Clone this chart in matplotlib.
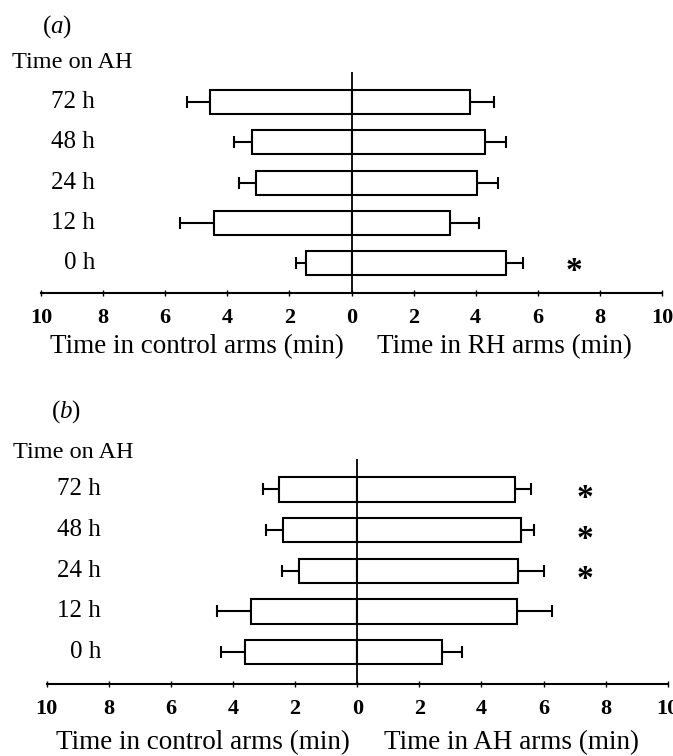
import numpy as np
import matplotlib
matplotlib.use("Agg")
import matplotlib.pyplot as plt

plt.rcParams['font.family'] = ['Liberation Serif', 'DejaVu Serif']
plt.rcParams['mathtext.fontset'] = 'custom'
plt.rcParams['mathtext.rm'] = 'Liberation Serif'
plt.rcParams['mathtext.it'] = 'Liberation Serif:italic'

# 0 h, 12 h, 24 h, 48 h, 72 h (bottom to top)
hours = ['0 h', '12 h', '24 h', '48 h', '72 h']

# panel (a): control arms vs RH arms, mean and mean+SE end (min)
ctrl_a = [1.48, 4.44, 3.08, 3.19, 4.55]
ctrl_a_top = [1.80, 5.51, 3.63, 3.77, 5.30]
rh_a = [4.99, 3.16, 4.05, 4.30, 3.81]
rh_a_top = [5.52, 4.12, 4.72, 4.97, 4.58]
sig_a = [True, False, False, False, False]

# panel (b): control arms vs AH arms
ctrl_b = [3.60, 3.42, 1.87, 2.40, 2.53]
ctrl_b_top = [4.40, 4.53, 2.42, 2.95, 3.02]
ah_b = [2.74, 5.15, 5.19, 5.26, 5.08]
ah_b_top = [3.39, 6.27, 6.02, 5.71, 5.61]
sig_b = [False, False, True, True, True]

tick_vals = [-10, -8, -6, -4, -2, 0, 2, 4, 6, 8, 10]


def draw_panel(ax, left, left_top, right, right_top, sig, star_x, ylo):
    y = np.arange(len(hours))
    left = np.array(left)
    right = np.array(right)
    ax.barh(y, -left, height=0.6, color='white', edgecolor='black', linewidth=1.5, zorder=2)
    ax.barh(y, right, height=0.6, color='white', edgecolor='black', linewidth=1.5, zorder=2)
    ax.errorbar(-left, y, xerr=[np.array(left_top) - left, np.zeros(len(y))],
                fmt='none', ecolor='black', elinewidth=1.5, capsize=4, capthick=1.5, zorder=1)
    ax.errorbar(right, y, xerr=[np.zeros(len(y)), np.array(right_top) - right],
                fmt='none', ecolor='black', elinewidth=1.5, capsize=4, capthick=1.5, zorder=1)
    ax.axvline(0, color='black', linewidth=1.3, zorder=3)

    for i, s in enumerate(sig):
        if s:
            ax.text(star_x, y[i] - 0.22, '*', ha='center', va='center',
                    fontsize=24, fontweight='bold')

    for i, h in enumerate(hours):
        ax.text(-8.25, y[i], h, ha='right', va='center', fontsize=18, clip_on=False)

    ax.set_xlim(-10, 10)
    ax.set_ylim(ylo, 4.75)
    ax.set_xticks(tick_vals)
    ax.set_xticklabels([str(abs(v)) for v in tick_vals], fontsize=16, fontweight='bold')
    ax.tick_params(axis='x', direction='inout', length=4, width=1, pad=9)
    ax.set_yticks([])
    for side in ['left', 'right', 'top']:
        ax.spines[side].set_visible(False)
    ax.spines['bottom'].set_linewidth(1.5)


fig = plt.figure(figsize=(6.73, 7.56), dpi=100)

ax_a = fig.add_axes([41 / 673, 1 - 293 / 756, 621 / 673, 221 / 756])
draw_panel(ax_a, ctrl_a, ctrl_a_top, rh_a, rh_a_top, sig_a, 7.18, -0.745)

ax_b = fig.add_axes([46.7 / 673, 1 - 684 / 756, 621 / 673, 225 / 756])
draw_panel(ax_b, ctrl_b, ctrl_b_top, ah_b, ah_b_top, sig_b, 7.35, -0.785)

# panel letters and headers
fig.text(57 / 673, 1 - 27 / 756, r'($\mathit{a}$)', ha='center', va='center', fontsize=18)
fig.text(12 / 673, 1 - 62 / 756, 'Time on AH', ha='left', va='center', fontsize=17.5)
fig.text(66 / 673, 1 - 412 / 756, r'($\mathit{b}$)', ha='center', va='center', fontsize=18)
fig.text(13 / 673, 1 - 452 / 756, 'Time on AH', ha='left', va='center', fontsize=17.5)

# axis titles under each half
fig.text(197 / 673, 1 - 347 / 756, 'Time in control arms (min)', ha='center', va='center', fontsize=19.5)
fig.text(504 / 673, 1 - 347 / 756, 'Time in RH arms (min)', ha='center', va='center', fontsize=19.5)
fig.text(203 / 673, 1 - 743 / 756, 'Time in control arms (min)', ha='center', va='center', fontsize=19.5)
fig.text(511 / 673, 1 - 743 / 756, 'Time in AH arms (min)', ha='center', va='center', fontsize=19.5)

fig.savefig('out.png', dpi=100)
